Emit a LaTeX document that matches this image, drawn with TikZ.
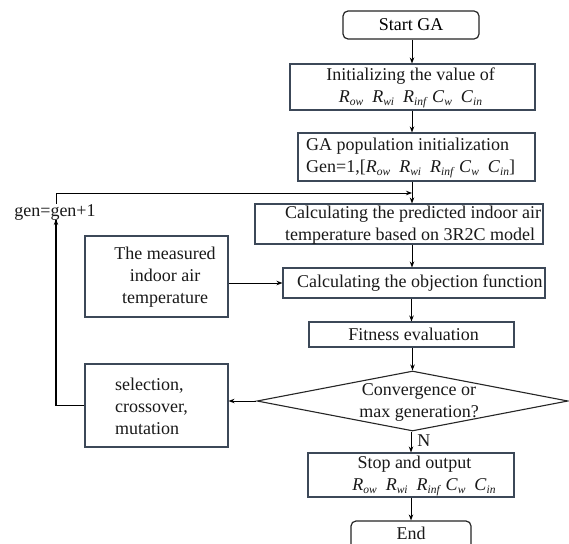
\documentclass[tikz,border=0pt]{standalone}
\usepackage{fontspec}
\setmainfont{Liberation Serif}
\usetikzlibrary{arrows.meta,shapes.geometric}
\definecolor{boxc}{HTML}{3C4858}
\newcommand\sbs[1]{\raisebox{-3.5pt}{\fontsize{11.5}{11.5}\selectfont\textit{#1}}}
\newcommand\prmlist{\textit{R}\sbs{ow}\ \ \textit{R}\sbs{wi}\ \ \textit{R}\sbs{inf}\ \textit{C}\sbs{w}\ \ \textit{C}\sbs{in}}
\begin{document}
\begin{tikzpicture}[x=1pt,y=-1pt,
  font=\fontsize{18}{22}\selectfont,
  box/.style={draw=boxc, line width=1.1pt, inner sep=0pt},
  term/.style={draw=black!85, line width=1.2pt, rounded corners=5pt, inner sep=0pt},
  lbl/.style={inner sep=0pt, text=black!90},
  arr/.style={-{Stealth[length=6pt,width=4.5pt]}, line width=0.9pt},
  loopline/.style={line width=1.3pt}
]
\useasboundingbox (0,0) rectangle (569,543);
\fill[white] (0,0) rectangle (569,543);

% main column
\node[term, minimum width=136pt, minimum height=28pt] (start) at (411,25) {Start GA};
\node[box, minimum width=245pt, minimum height=46pt] (init) at (412.5,87) {};
\node[lbl, align=center] (initt) at (410.5,88) {Initializing the value of\\ \prmlist};
\node[box, minimum width=237pt, minimum height=48pt] (pop) at (416.5,157) {};
\node[lbl, align=left, anchor=west] (popt) at (306,158) {GA population initialization\\ Gen=1,[\prmlist]};
\node[box, minimum width=288pt, minimum height=40pt] (calc) at (399,224) {};
\node[lbl, align=left, anchor=west] (calct) at (285,225) {Calculating the predicted indoor air\\ temperature based on 3R2C model};
\node[box, minimum width=262pt, minimum height=30pt] (obj) at (414,283) {};
\node[lbl, anchor=west] (objt) at (297,283) {Calculating the objection function};
\node[box, minimum width=205pt, minimum height=25pt] (fit) at (411.5,334.5) {};
\node[lbl] (fitt) at (413.5,334.5) {Fitness evaluation};
\node[draw=black!85, line width=1.1pt, diamond, minimum width=311pt, minimum height=60pt, inner sep=0pt] (dia) at (412.5,401) {};
\node[lbl, align=center] (diat) at (419,402) {Convergence or\\ max generation?};
\node[box, minimum width=206pt, minimum height=44pt] (stop) at (411,475) {};
\node[lbl, align=center] (stopt) at (419.5,476) {\hspace*{-10pt}Stop and output\\ \hspace*{9pt}\prmlist};
\node[term, minimum width=120pt, minimum height=28pt] (end) at (411,535) {};
\node[lbl] (endt) at (411,533) {End};

% left side
\node[box, minimum width=143pt, minimum height=81pt] (meas) at (156.5,276.5) {};
\node[lbl, align=center] (meast) at (165,277) {The measured\\ indoor air\\ temperature};
\node[box, minimum width=143pt, minimum height=83pt] (sel) at (156.5,405.5) {};
\node[lbl, align=left, anchor=west] (selt) at (115,406) {selection,\\ crossover,\\ mutation};
\node[lbl] (gen) at (55,212) {gen=gen+1};
\coordinate (top) at (56,193);
\coordinate (join) at (412,193);

% connectors
\draw[arr] (start.south -| join) -- (init.north -| join);
\draw[arr] (init.south -| join) -- (pop.north -| join);
\draw[arr] (pop.south -| join) -- (calc.north -| join);
\draw[arr] (calc.south -| join) -- (obj.north -| join);
\draw[arr] (meas.east |- obj.west) -- (obj.west);
\draw[arr] (obj.south -| fit) -- (fit.north);
\draw[arr] (fit.south -| dia) -- (dia.north);
\draw[arr] (dia.west) -- (sel.east |- dia.west);
\draw[arr] (dia.south -| stop) -- (stop.north) node[lbl, pos=0.45, right=6pt] (nlab) {N};
\draw[arr] (stop.south) -- (end.north);
\draw[loopline] (sel.west) -- (sel.west -| top) -- (gen.south -| top);
\draw[arr] (sel.west -| top) ++(0,-1) -- ([yshift=1pt]gen.south -| top);
\draw[line width=0.9pt] (gen.north -| top) -- (top);
\draw[arr] (top) -- (join);
\end{tikzpicture}
\end{document}
